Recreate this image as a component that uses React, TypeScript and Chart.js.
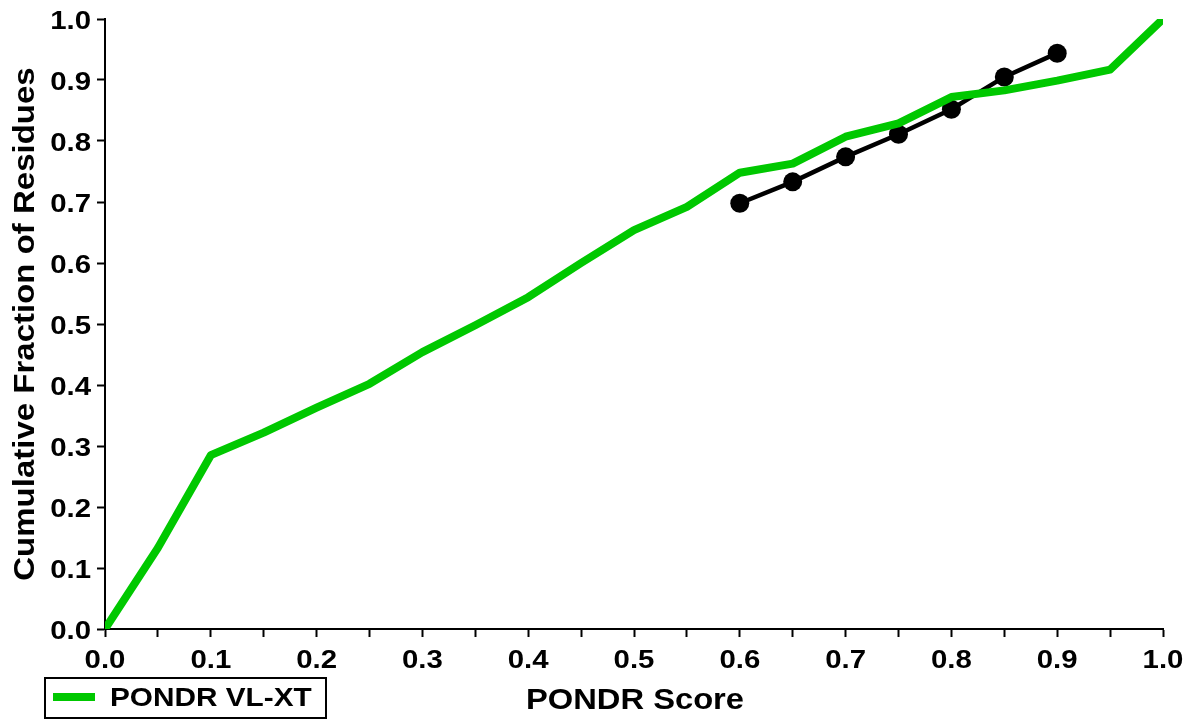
import React, { useEffect, useRef } from "react";
import { Chart, registerables } from "chart.js";

Chart.register(...registerables);

const scoreValues = [0, 0.05, 0.1, 0.15, 0.2, 0.25, 0.3, 0.35, 0.4, 0.45, 0.5, 0.55, 0.6, 0.65, 0.7, 0.75, 0.8, 0.85, 0.9, 0.95, 1.0];
const vlxtFraction = [0, 0.133, 0.285, 0.322, 0.363, 0.402, 0.454, 0.498, 0.544, 0.6, 0.654, 0.692, 0.748, 0.763, 0.807, 0.829, 0.872, 0.883, 0.899, 0.917, 1.0];
const refScores = [0.6, 0.65, 0.7, 0.75, 0.8, 0.85, 0.9];
const refFraction = [0.698, 0.733, 0.774, 0.811, 0.852, 0.905, 0.944];
const xTickLabels = ["0.0", "0.1", "0.2", "0.3", "0.4", "0.5", "0.6", "0.7", "0.8", "0.9", "1.0"];
const yTickLabels = ["0.0", "0.1", "0.2", "0.3", "0.4", "0.5", "0.6", "0.7", "0.8", "0.9", "1.0"];
const legendLabel = "PONDR VL-XT";
const xTitle = "PONDR Score";
const yTitle = "Cumulative Fraction of Residues";

const GREEN = "#00c800";
const FONT = "'Liberation Sans', Arial, Helvetica, sans-serif";

const overlayPlugin = {
  id: "overlay",
  afterDraw(chart: any) {
    const ctx = chart.ctx;
    const area = chart.chartArea;
    const xs = chart.scales.x;
    const ys = chart.scales.y;
    ctx.save();
    ctx.fillStyle = "#000";
    // tick labels
    ctx.font = `bold 26px ${FONT}`;
    ctx.textBaseline = "alphabetic";
    ctx.textAlign = "center";
    xTickLabels.forEach((t) => {
      const px = xs.getPixelForValue(Number(t));
      ctx.save();
      ctx.translate(px, 668);
      ctx.scale(1.13, 1);
      ctx.fillText(t, 0, 0);
      ctx.restore();
    });
    ctx.textAlign = "right";
    yTickLabels.forEach((t) => {
      const py = ys.getPixelForValue(Number(t));
      ctx.save();
      ctx.translate(91, py + 9.5);
      ctx.scale(1.13, 1);
      ctx.fillText(t, 0, 0);
      ctx.restore();
    });
    // x title
    ctx.font = `bold 30px ${FONT}`;
    ctx.textAlign = "center";
    ctx.save();
    ctx.translate((area.left + area.right) / 2 + 1, 709);
    ctx.scale(1.09, 1);
    ctx.fillText(xTitle, 0, 0);
    ctx.restore();
    // y title
    ctx.save();
    ctx.translate(34, 324);
    ctx.rotate(-Math.PI / 2);
    ctx.scale(1.1, 1);
    ctx.fillText(yTitle, 0, 0);
    ctx.restore();
    // legend box
    ctx.lineWidth = 2;
    ctx.strokeStyle = "#000";
    ctx.strokeRect(45, 678, 281, 40);
    ctx.strokeStyle = GREEN;
    ctx.lineWidth = 8;
    ctx.beginPath();
    ctx.moveTo(53, 697);
    ctx.lineTo(95, 697);
    ctx.stroke();
    ctx.fillStyle = "#000";
    ctx.font = `bold 25px ${FONT}`;
    ctx.textAlign = "left";
    ctx.save();
    ctx.translate(110, 706);
    ctx.scale(1.19, 1);
    ctx.fillText(legendLabel, 0, 0);
    ctx.restore();
    ctx.restore();
  },
};

export default function App() {
  const canvasRef = useRef<HTMLCanvasElement | null>(null);

  useEffect(() => {
    if (!canvasRef.current) return;
    const chart = new Chart(canvasRef.current, {
      type: "line",
      data: {
        datasets: [
          {
            label: legendLabel,
            data: scoreValues.map((x, i) => ({ x, y: vlxtFraction[i] })),
            borderColor: GREEN,
            backgroundColor: GREEN,
            borderWidth: 8,
            pointRadius: 0,
            tension: 0,
            borderJoinStyle: "round",
            borderCapStyle: "round",
          },
          {
            label: "reference",
            data: refScores.map((x, i) => ({ x, y: refFraction[i] })),
            borderColor: "#000",
            backgroundColor: "#000",
            borderWidth: 4.5,
            pointRadius: 9.5,
            pointBackgroundColor: "#000",
            pointBorderWidth: 0,
            tension: 0,
          },
        ],
      },
      options: {
        responsive: false,
        animation: false,
        layout: { padding: { top: 19, right: 25, left: 0, bottom: 0 } },
        plugins: { legend: { display: false }, tooltip: { enabled: false }, title: { display: false } },
        scales: {
          x: {
            type: "linear",
            min: 0,
            max: 1,
            afterFit: (s: any) => { s.height = 92; },
            border: { color: "#000", width: 2 },
            grid: { drawOnChartArea: false, drawTicks: true, tickLength: 8, tickColor: "#000", tickWidth: 2 },
            ticks: {
              display: false,
              stepSize: 0.05,
              autoSkip: false,
            },
          },
          y: {
            type: "linear",
            min: 0,
            max: 1,
            afterFit: (s: any) => { s.width = 105; },
            border: { color: "#000", width: 2 },
            grid: { drawOnChartArea: false, drawTicks: true, tickLength: 8, tickColor: "#000", tickWidth: 2 },
            ticks: {
              display: false,
              stepSize: 0.1,
            },
          },
        },
      },
      plugins: [overlayPlugin],
    } as any);
    return () => chart.destroy();
  }, []);

  return (
    <div style={{ position: "fixed", left: 0, top: 0, width: 1188, height: 721, background: "#fff" }}>
      <canvas ref={canvasRef} width={1188} height={721} style={{ display: "block" }} />
    </div>
  );
}
